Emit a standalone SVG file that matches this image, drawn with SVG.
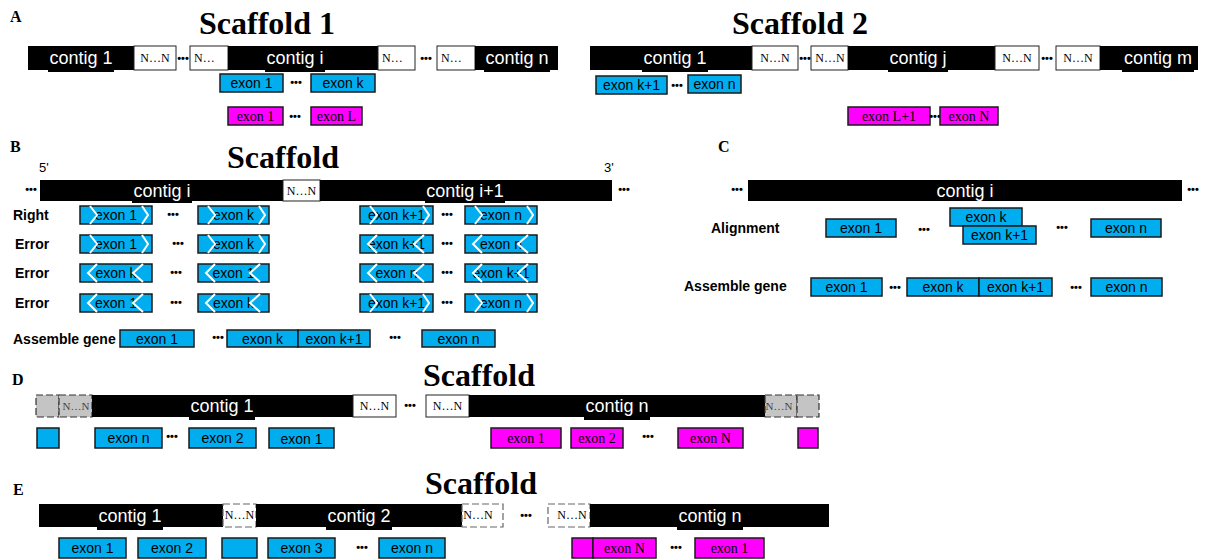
<svg xmlns="http://www.w3.org/2000/svg" width="1232" height="560" viewBox="0 0 1232 560">
<style>
.k{fill:#000}
.g{fill:#fff;stroke:#222;stroke-width:1}
.dg{fill:#c4c4c4;stroke:#333;stroke-width:1.2;stroke-dasharray:7 3}
.dw{fill:#fff;stroke:#666;stroke-width:1.2;stroke-dasharray:7 3}
.b{fill:#00aeef;stroke:#1a1a1a;stroke-width:1.5}
.m{fill:#ff00ff;stroke:#1a1a1a;stroke-width:1.5}
.ct{font-family:"Liberation Sans",Arial,sans-serif;font-size:18px;fill:#fff;text-anchor:middle}
.nn{font-family:"Liberation Serif","Times New Roman",serif;font-size:12px;fill:#000;text-anchor:middle}
.ns{font-family:"Liberation Serif","Times New Roman",serif;font-size:12px;fill:#000;text-anchor:start}
.ng{font-family:"Liberation Serif","Times New Roman",serif;font-size:11px;fill:#444;text-anchor:middle}
.et{font-family:"Liberation Sans",Arial,sans-serif;font-size:14px;fill:#000;text-anchor:middle}
.mt{font-family:"Liberation Serif","Times New Roman",serif;font-size:14px;fill:#000;text-anchor:middle}
.ti{font-family:"Liberation Serif","Times New Roman",serif;font-size:32px;font-weight:bold;text-anchor:middle;fill:#000}
.pl{font-family:"Liberation Serif","Times New Roman",serif;font-size:16px;font-weight:bold;fill:#000}
.lb{font-family:"Liberation Sans",Arial,sans-serif;font-size:14px;font-weight:bold;fill:#000}
.d{font-family:"Liberation Sans",Arial,sans-serif;font-size:11px;font-weight:bold;text-anchor:middle;fill:#000}
.ch{fill:none;stroke:#fff;stroke-width:2}
.pr{font-family:"Liberation Sans",Arial,sans-serif;font-size:13px;fill:#000}
</style>

<!-- Panel A -->
<g id="panelA-labels">
<text class="pl" x="10" y="22">A</text>
<text class="ti" x="267" y="34">Scaffold 1</text>
<text class="ti" x="800" y="34">Scaffold 2</text>
</g>
<g id="A-scaffold1">
<rect class="k" x="28" y="46" width="106" height="24"/>
<rect class="k" x="48" y="54" width="66" height="18"/>
<text class="ct" x="81" y="64">contig 1</text>
<rect class="g" x="134" y="46" width="42" height="24"/>
<text class="nn" x="155" y="62">N…N</text>
<text class="d" x="183" y="62">•••</text>
<rect class="g" x="190" y="46" width="38" height="24"/>
<text class="ns" x="194" y="62">N…</text>
<rect class="k" x="228" y="46" width="150" height="24"/>
<rect class="k" x="265" y="54" width="60" height="18"/>
<text class="ct" x="295" y="64">contig i</text>
<rect class="g" x="378" y="46" width="37" height="24"/>
<text class="ns" x="382" y="62">N…</text>
<text class="d" x="426" y="62">•••</text>
<rect class="g" x="437" y="46" width="38" height="24"/>
<text class="ns" x="441" y="62">N…</text>
<rect class="k" x="475" y="46" width="83" height="24"/>
<rect class="k" x="484" y="54" width="66" height="18"/>
<text class="ct" x="517" y="64">contig n</text>
</g>
<g id="A-exons1">
<rect class="b" x="220" y="74" width="63" height="18"/><text class="et" x="251.5" y="88">exon 1</text>
<text class="d" x="296" y="86">•••</text>
<rect class="b" x="311" y="74" width="64" height="18"/><text class="et" x="343" y="88">exon k</text>
<rect class="m" x="228" y="107" width="55" height="18"/><text class="mt" x="255.5" y="121">exon 1</text>
<text class="d" x="295" y="120">•••</text>
<rect class="m" x="311" y="107" width="51" height="18"/><text class="mt" x="336.5" y="121">exon L</text>
</g>
<g id="A-scaffold2">
<rect class="k" x="590" y="46" width="162" height="24"/>
<rect class="k" x="642" y="54" width="66" height="18"/>
<text class="ct" x="675" y="64">contig 1</text>
<rect class="g" x="752" y="46" width="46" height="24"/>
<text class="nn" x="775" y="62">N…N</text>
<text class="d" x="805" y="62">•••</text>
<rect class="g" x="811" y="46" width="37" height="24"/>
<text class="nn" x="830" y="62">N…N</text>
<rect class="k" x="848" y="46" width="147" height="24"/>
<rect class="k" x="888" y="54" width="60" height="18"/>
<text class="ct" x="918" y="64">contig j</text>
<rect class="g" x="995" y="46" width="44" height="24"/>
<text class="nn" x="1017" y="62">N…N</text>
<text class="d" x="1047" y="62">•••</text>
<rect class="g" x="1056" y="46" width="44" height="24"/>
<text class="nn" x="1078" y="62">N…N</text>
<rect class="k" x="1100" y="46" width="98" height="24"/>
<rect class="k" x="1122" y="54" width="72" height="18"/>
<text class="ct" x="1158" y="64">contig m</text>
</g>
<g id="A-exons2">
<rect class="b" x="596" y="76" width="71" height="18"/><text class="et" x="631.5" y="90">exon k+1</text>
<text class="d" x="677" y="89">•••</text>
<rect class="b" x="688" y="75" width="53" height="18"/><text class="et" x="714.5" y="89">exon n</text>
<rect class="m" x="848" y="107" width="82" height="18"/><text class="mt" x="889" y="121">exon L+1</text>
<text class="d" x="935" y="120">•••</text>
<rect class="m" x="940" y="107" width="58" height="18"/><text class="mt" x="969" y="121">exon N</text>
</g>

<!-- Panel B -->
<g id="panelB-labels">
<text class="pl" x="10" y="152">B</text>
<text class="ti" x="283" y="168">Scaffold</text>
<text class="pr" x="39" y="172">5'</text>
<text class="pr" x="604" y="172">3'</text>
<text class="d" x="31" y="193">•••</text>
<text class="d" x="624" y="193">•••</text>
<text class="lb" x="13" y="220">Right</text>
<text class="lb" x="15" y="249">Error</text>
<text class="lb" x="15" y="278">Error</text>
<text class="lb" x="15" y="308">Error</text>
<text class="lb" x="13" y="344">Assemble gene</text>
</g>
<g id="B-scaffold">
<rect class="k" x="40" y="180" width="243" height="21"/>
<rect class="k" x="132" y="186" width="60" height="17"/>
<text class="ct" x="162" y="197">contig i</text>
<rect class="g" x="283" y="180" width="37" height="21"/>
<text class="nn" x="301.5" y="195">N…N</text>
<rect class="k" x="320" y="180" width="292" height="21"/>
<rect class="k" x="425" y="186" width="80" height="17"/>
<text class="ct" x="465" y="197">contig i+1</text>
</g>
<g id="B-row-right">
<rect class="b" x="80" y="206" width="72" height="18"/><text class="et" x="116" y="220">exon 1</text>
<path class="ch" d="M90 206L97 215L90 224M142 206L148 215L142 224"/>
<text class="d" x="173" y="218">•••</text>
<rect class="b" x="198" y="206" width="71" height="18"/><text class="et" x="233.5" y="220">exon k</text>
<path class="ch" d="M208 206L215 215L208 224M259 206L265 215L259 224"/>
<rect class="b" x="360" y="206" width="73" height="18"/><text class="et" x="396.5" y="220">exon k+1</text>
<path class="ch" d="M370 206L377 215L370 224M423 206L429 215L423 224"/>
<text class="d" x="447" y="218">•••</text>
<rect class="b" x="465" y="206" width="72" height="18"/><text class="et" x="501" y="220">exon n</text>
<path class="ch" d="M475 206L482 215L475 224M527 206L533 215L527 224"/>
</g>
<g id="B-row-error1">
<rect class="b" x="80" y="235" width="72" height="18"/><text class="et" x="116" y="249">exon 1</text>
<path class="ch" d="M90 235L97 244L90 253M142 235L148 244L142 253"/>
<text class="d" x="178" y="247">•••</text>
<rect class="b" x="198" y="235" width="71" height="18"/><text class="et" x="233.5" y="249">exon k</text>
<path class="ch" d="M208 235L215 244L208 253M259 235L265 244L259 253"/>
<rect class="b" x="360" y="235" width="73" height="18"/><text class="et" x="396.5" y="249">exon k+1</text>
<path class="ch" d="M377 235L368 244L377 253M424 235L414 244L424 253"/>
<text class="d" x="447" y="247">•••</text>
<rect class="b" x="465" y="235" width="72" height="18"/><text class="et" x="501" y="249">exon n</text>
<path class="ch" d="M482 235L473 244L482 253M528 235L518 244L528 253"/>
</g>
<g id="B-row-error2">
<rect class="b" x="80" y="264" width="72" height="18"/><text class="et" x="116" y="278">exon k</text>
<path class="ch" d="M97 264L88 273L97 282M143 264L133 273L143 282"/>
<text class="d" x="176" y="276">•••</text>
<rect class="b" x="198" y="264" width="71" height="18"/><text class="et" x="233.5" y="278">exon 1</text>
<path class="ch" d="M215 264L206 273L215 282M260 264L250 273L260 282"/>
<rect class="b" x="360" y="264" width="73" height="18"/><text class="et" x="396.5" y="278">exon n</text>
<path class="ch" d="M377 264L368 273L377 282M424 264L414 273L424 282"/>
<text class="d" x="447" y="276">•••</text>
<rect class="b" x="465" y="264" width="72" height="18"/><text class="et" x="501" y="278">exon k+1</text>
<path class="ch" d="M482 264L473 273L482 282M528 264L518 273L528 282"/>
</g>
<g id="B-row-error3">
<rect class="b" x="80" y="294" width="72" height="18"/><text class="et" x="116" y="308">exon 1</text>
<path class="ch" d="M97 294L88 303L97 312M143 294L133 303L143 312"/>
<text class="d" x="176" y="306">•••</text>
<rect class="b" x="198" y="294" width="71" height="18"/><text class="et" x="233.5" y="308">exon k</text>
<path class="ch" d="M215 294L206 303L215 312M260 294L250 303L260 312"/>
<rect class="b" x="360" y="294" width="73" height="18"/><text class="et" x="396.5" y="308">exon k+1</text>
<path class="ch" d="M370 294L377 303L370 312M423 294L429 303L423 312"/>
<text class="d" x="447" y="306">•••</text>
<rect class="b" x="465" y="294" width="72" height="18"/><text class="et" x="501" y="308">exon n</text>
<path class="ch" d="M475 294L482 303L475 312M527 294L533 303L527 312"/>
</g>
<g id="B-assembled">
<rect class="b" x="120" y="330" width="74" height="17"/><text class="et" x="157" y="344">exon 1</text>
<text class="d" x="218" y="341">•••</text>
<rect class="b" x="227" y="330" width="71" height="17"/><text class="et" x="262.5" y="344">exon k</text>
<rect class="b" x="298" y="330" width="72" height="17"/><text class="et" x="334" y="344">exon k+1</text>
<text class="d" x="395" y="341">•••</text>
<rect class="b" x="422" y="330" width="73" height="17"/><text class="et" x="458.5" y="344">exon n</text>
</g>

<!-- Panel C -->
<g id="panelC-labels">
<text class="pl" x="718" y="152">C</text>
<text class="d" x="737" y="193">•••</text>
<text class="d" x="1193" y="193">•••</text>
<text class="lb" x="711" y="233">Alignment</text>
<text class="lb" x="684" y="291">Assemble gene</text>
</g>
<g id="C-contig">
<rect class="k" x="748" y="180" width="434" height="21"/>
<text class="ct" x="965" y="197">contig i</text>
</g>
<g id="C-alignment">
<rect class="b" x="826" y="219" width="70" height="18"/><text class="et" x="861" y="233">exon 1</text>
<text class="d" x="924" y="233">•••</text>
<rect class="b" x="950" y="208" width="72" height="18"/><text class="et" x="986" y="222">exon k</text>
<rect class="b" x="963" y="226" width="73" height="18"/><text class="et" x="999.5" y="240">exon k+1</text>
<text class="d" x="1062" y="231">•••</text>
<rect class="b" x="1091" y="219" width="70" height="18"/><text class="et" x="1126" y="233">exon n</text>
</g>
<g id="C-assembled">
<rect class="b" x="811" y="278" width="71" height="18"/><text class="et" x="846.5" y="292">exon 1</text>
<text class="d" x="895" y="291">•••</text>
<rect class="b" x="907" y="278" width="72" height="18"/><text class="et" x="943" y="292">exon k</text>
<rect class="b" x="979" y="278" width="73" height="18"/><text class="et" x="1015.5" y="292">exon k+1</text>
<text class="d" x="1076" y="291">•••</text>
<rect class="b" x="1091" y="278" width="71" height="18"/><text class="et" x="1126.5" y="292">exon n</text>
</g>

<!-- Panel D -->
<g id="panelD-labels">
<text class="pl" x="12" y="385">D</text>
<text class="ti" x="479" y="386">Scaffold</text>
</g>
<g id="D-scaffold">
<rect class="dg" x="36" y="395" width="23" height="22"/>
<rect class="dg" x="59" y="395" width="33" height="22"/>
<text class="ng" x="76" y="410">N…N</text>
<rect class="k" x="92" y="395" width="261" height="22"/>
<rect class="k" x="189" y="402" width="66" height="18"/>
<text class="ct" x="222" y="412">contig 1</text>
<rect class="g" x="353" y="395" width="43" height="22"/>
<text class="nn" x="374.5" y="410">N…N</text>
<text class="d" x="410" y="409">•••</text>
<rect class="g" x="426" y="395" width="43" height="22"/>
<text class="nn" x="447.5" y="410">N…N</text>
<rect class="k" x="469" y="395" width="296" height="22"/>
<rect class="k" x="584" y="402" width="66" height="18"/>
<text class="ct" x="617" y="412">contig n</text>
<rect class="dg" x="765" y="395" width="32" height="22"/>
<text class="ng" x="779" y="410">N…N</text>
<rect class="dg" x="797" y="395" width="22" height="22"/>
</g>
<g id="D-exons">
<rect class="b" x="37" y="428" width="22" height="20"/>
<rect class="b" x="95" y="428" width="67" height="20"/><text class="et" x="128.5" y="443">exon n</text>
<text class="d" x="172" y="440">•••</text>
<rect class="b" x="189" y="428" width="67" height="20"/><text class="et" x="222.5" y="443">exon 2</text>
<rect class="b" x="269" y="428" width="65" height="20"/><text class="et" x="301.5" y="444">exon 1</text>
<rect class="m" x="491" y="428" width="70" height="20"/><text class="mt" x="526" y="443">exon 1</text>
<rect class="m" x="571" y="428" width="52" height="20"/><text class="mt" x="597" y="443">exon 2</text>
<text class="d" x="648" y="440">•••</text>
<rect class="m" x="678" y="428" width="65" height="20"/><text class="mt" x="710.5" y="443">exon N</text>
<rect class="m" x="798" y="428" width="20" height="20"/>
</g>

<!-- Panel E -->
<g id="panelE-labels">
<text class="pl" x="13" y="495">E</text>
<text class="ti" x="481" y="494">Scaffold</text>
</g>
<g id="E-scaffold">
<rect class="k" x="39" y="504" width="184" height="23"/>
<rect class="k" x="97" y="511" width="66" height="19"/>
<text class="ct" x="130" y="522">contig 1</text>
<rect class="dw" x="223" y="504" width="33" height="23"/>
<text class="nn" x="239.5" y="519">N…N</text>
<rect class="k" x="256" y="504" width="206" height="23"/>
<rect class="k" x="326" y="511" width="66" height="19"/>
<text class="ct" x="359" y="522">contig 2</text>
<rect class="dw" x="462" y="504" width="41" height="23"/>
<text class="nn" x="478" y="519">N…N</text>
<text class="d" x="526" y="519">•••</text>
<rect class="dw" x="548" y="504" width="42" height="23"/>
<text class="nn" x="572" y="519">N…N</text>
<rect class="k" x="590" y="504" width="239" height="23"/>
<rect class="k" x="677" y="511" width="66" height="19"/>
<text class="ct" x="710" y="522">contig n</text>
</g>
<g id="E-exons">
<rect class="b" x="59" y="538" width="67" height="20"/><text class="et" x="92.5" y="553">exon 1</text>
<rect class="b" x="138" y="538" width="68" height="20"/><text class="et" x="172" y="553">exon 2</text>
<rect class="b" x="222" y="538" width="35" height="20"/>
<rect class="b" x="268" y="538" width="67" height="20"/><text class="et" x="301.5" y="553">exon 3</text>
<text class="d" x="362" y="551">•••</text>
<rect class="b" x="379" y="538" width="66" height="20"/><text class="et" x="412" y="553">exon n</text>
<rect class="m" x="572" y="538" width="21" height="20"/>
<rect class="m" x="593" y="538" width="63" height="20"/><text class="mt" x="624.5" y="553">exon N</text>
<text class="d" x="676" y="551">•••</text>
<rect class="m" x="695" y="538" width="69" height="20"/><text class="mt" x="729.5" y="553">exon 1</text>
</g>
</svg>
